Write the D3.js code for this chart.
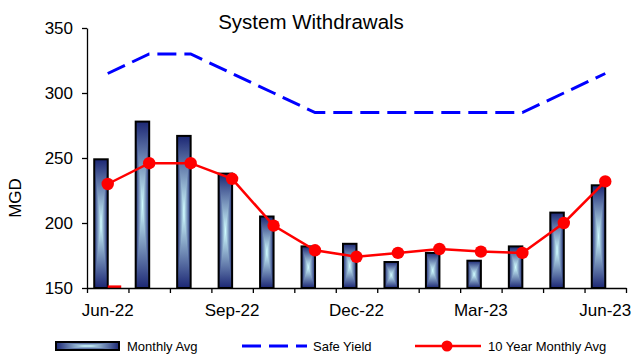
<!DOCTYPE html>
<html>
<head>
<meta charset="utf-8">
<script src="https://cdn.jsdelivr.net/npm/d3@7"></script>
<style>
  html, body { margin: 0; padding: 0; background: #fff; }
  svg { display: block; font-family: Arial, "Liberation Sans", sans-serif; }
</style>
</head>
<body>
<svg id="chart" width="633" height="358"></svg>
<script>
// Monthly system withdrawals, June 2022 – June 2023 (MGD)
const months = ["Jun-22", "Jul-22", "Aug-22", "Sep-22", "Oct-22", "Nov-22", "Dec-22",
                "Jan-23", "Feb-23", "Mar-23", "Apr-23", "May-23", "Jun-23"];
const monthlyAvg = [249, 278, 267, 238, 205, 182, 184, 170, 177, 171, 182, 208, 229];
const currentMonth = [152, null, null, null, null, null, null, null, null, null, null, null, null];
const safeYield = [315, 330, 330, 315, 300, 285, 285, 285, 285, 285, 285, 300, 315];
const tenYearAvg = [230, 246, 246, 234, 198, 179, 174, 177, 180, 178, 177, 200, 232];
const yTicks = [150, 200, 250, 300, 350];
const labelMonths = ["Jun-22", "Sep-22", "Dec-22", "Mar-23", "Jun-23"];

const svg = d3.select("#chart");
const plot = { left: 87, right: 626, top: 28, bottom: 288 };

const x = d3.scaleBand().domain(months).range([plot.left, plot.right]).paddingInner(0).paddingOuter(0);
const xEdge = d3.scaleLinear().domain([0, months.length]).range([plot.left, plot.right]);
const y = d3.scaleLinear().domain([150, 350]).range([plot.bottom, plot.top]);
const barW = 13.5;

// Gradients for the "rectangle" fill: dark navy at every edge, pale cyan at the centre
const defs = svg.append("defs");
const edgeCol = "#1c2774", midCol = "#d0fcff";
function grad(id, x1, y1, x2, y2, stops) {
  const g = defs.append("linearGradient").attr("id", id)
    .attr("x1", x1).attr("y1", y1).attr("x2", x2).attr("y2", y2);
  stops.forEach(([o, c]) => g.append("stop").attr("offset", o).attr("stop-color", c));
}
grad("gH", 0, 0, 1, 0, [[0, edgeCol], [0.5, midCol], [1, edgeCol]]);
grad("gTop", 0, 0, 0, 1, [[0, edgeCol], [1, midCol]]);
grad("gBot", 0, 0, 0, 1, [[0, midCol], [1, edgeCol]]);

function gradientBox(g, x0, y0, w, h) {
  const cx = x0 + w / 2, cy = y0 + h / 2;
  g.append("rect").attr("x", x0).attr("y", y0).attr("width", w).attr("height", h).attr("fill", "url(#gH)");
  g.append("path").attr("d", `M${x0},${y0}L${x0 + w},${y0}L${cx},${cy}Z`).attr("fill", "url(#gTop)");
  g.append("path").attr("d", `M${x0},${y0 + h}L${x0 + w},${y0 + h}L${cx},${cy}Z`).attr("fill", "url(#gBot)");
  g.append("rect").attr("x", x0).attr("y", y0).attr("width", w).attr("height", h)
    .attr("fill", "none").attr("stroke", "#000").attr("stroke-width", 2);
}

// Monthly average bars (left of each cluster)
const bars = svg.append("g");
months.forEach((m, i) => {
  const cx = x(m) + x.bandwidth() / 2;
  const top = y(monthlyAvg[i]);
  gradientBox(bars.append("g"), cx - barW, top, barW, plot.bottom - top);
});

// Second bar in each cluster
svg.append("g").selectAll("rect")
  .data(months.map((m, i) => ({ m, v: currentMonth[i] })).filter(d => d.v != null))
  .join("rect")
  .attr("x", d => x(d.m) + x.bandwidth() / 2)
  .attr("y", d => y(d.v))
  .attr("width", barW)
  .attr("height", d => plot.bottom - y(d.v))
  .attr("fill", "#ff0000");

// Axes
const yAxis = svg.append("g").attr("transform", `translate(${plot.left},0)`)
  .call(d3.axisLeft(y).tickValues(yTicks).tickSize(5).tickSizeOuter(0).tickPadding(9));
yAxis.selectAll("text").attr("font-size", 17).attr("fill", "#000").attr("font-family", "Arial, 'Liberation Sans', sans-serif");

const xTicks = svg.append("g").attr("transform", `translate(0,${plot.bottom})`)
  .call(d3.axisBottom(xEdge).tickValues(d3.range(months.length + 1)).tickFormat("").tickSize(5).tickSizeOuter(0));
const xLabels = svg.append("g").attr("transform", `translate(0,${plot.bottom})`)
  .call(d3.axisBottom(x).tickValues(labelMonths).tickSize(0).tickPadding(16));
xLabels.select(".domain").remove();
xLabels.selectAll("text").attr("font-size", 17).attr("fill", "#000").attr("font-family", "Arial, 'Liberation Sans', sans-serif");
svg.selectAll(".domain, .tick line").attr("stroke", "#000").attr("stroke-width", 1.3);

// Safe yield (dashed blue)
const lineGen = d3.line().x((d, i) => x(months[i]) + x.bandwidth() / 2).y(d => y(d));
svg.append("path").datum(safeYield).attr("d", lineGen)
  .attr("fill", "none").attr("stroke", "#0000ff").attr("stroke-width", 3)
  .attr("stroke-dasharray", "19,8");

// 10-year monthly average (red line with markers)
svg.append("path").datum(tenYearAvg).attr("d", lineGen)
  .attr("fill", "none").attr("stroke", "#ff0000").attr("stroke-width", 2.5);
svg.append("g").selectAll("circle").data(tenYearAvg).join("circle")
  .attr("cx", (d, i) => x(months[i]) + x.bandwidth() / 2)
  .attr("cy", d => y(d))
  .attr("r", 6.2).attr("fill", "#ff0000");

// Title and axis label
svg.append("text").attr("x", 311).attr("y", 29).attr("text-anchor", "middle")
  .attr("font-size", 20.5).attr("fill", "#000").text("System Withdrawals");
svg.append("text").attr("transform", "translate(21,198) rotate(-90)").attr("text-anchor", "middle")
  .attr("font-size", 17).attr("fill", "#000").text("MGD");

// Legend
const leg = svg.append("g").attr("font-size", 13).attr("fill", "#000");
const ly = 346;
gradientBox(leg.append("g"), 56, 342, 63, 8);
leg.append("text").attr("x", 127).attr("y", ly + 5).text("Monthly Avg");
leg.append("line").attr("x1", 242).attr("x2", 307).attr("y1", ly).attr("y2", ly)
  .attr("stroke", "#0000ff").attr("stroke-width", 3).attr("stroke-dasharray", "19,8");
leg.append("text").attr("x", 313).attr("y", ly + 5).text("Safe Yield");
leg.append("line").attr("x1", 415).attr("x2", 481).attr("y1", ly).attr("y2", ly)
  .attr("stroke", "#ff0000").attr("stroke-width", 2.5);
leg.append("circle").attr("cx", 447).attr("cy", ly).attr("r", 5.5).attr("fill", "#ff0000");
leg.append("text").attr("x", 488).attr("y", ly + 5).text("10 Year Monthly Avg");
</script>
</body>
</html>
